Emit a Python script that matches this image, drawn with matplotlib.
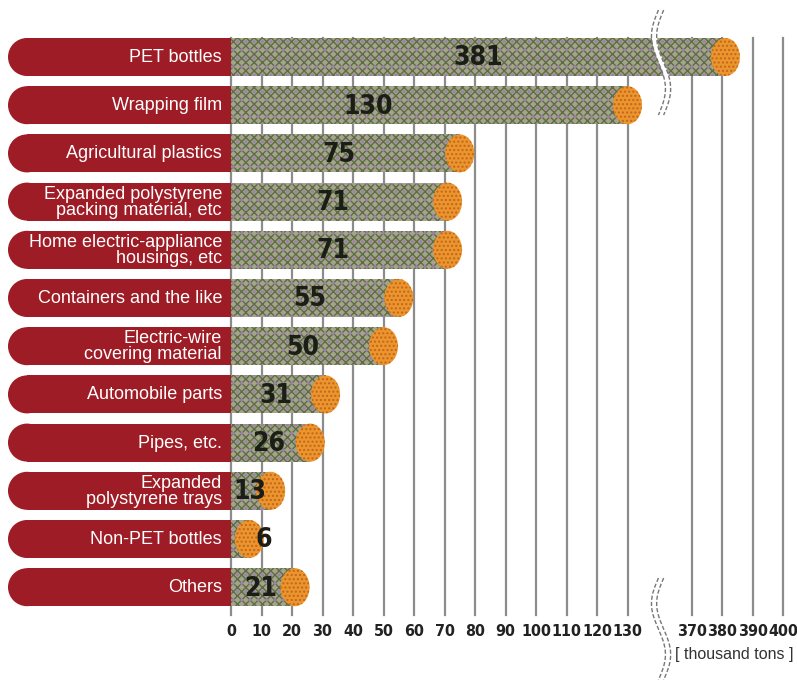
import numpy as np
import matplotlib.pyplot as plt
from matplotlib import font_manager
from matplotlib.patches import Rectangle, Ellipse

# Plastic waste by product, thousand tons
categories = [
    "PET bottles",
    "Wrapping film",
    "Agricultural plastics",
    "Expanded polystyrene\npacking material, etc",
    "Home electric-appliance\nhousings, etc",
    "Containers and the like",
    "Electric-wire\ncovering material",
    "Automobile parts",
    "Pipes, etc.",
    "Expanded\npolystyrene trays",
    "Non-PET bottles",
    "Others",
]
values = [381, 130, 75, 71, 71, 55, 50, 31, 26, 13, 6, 21]

low_ticks = list(range(0, 140, 10))
high_ticks = [370, 380, 390, 400]

# Broken axis: values above the break are shifted left so 370 sits just past 130
BREAK_LO = 130
BREAK_HI = 370
HIGH_START = 151.1
BREAK_X = 141.0


def xpos(v):
    v = np.asarray(v, dtype=float)
    return np.where(v <= BREAK_LO, v, v - BREAK_HI + HIGH_START)


def narrow_bold():
    # look for any installed condensed/narrow bold face for the numbers
    for f in font_manager.fontManager.ttflist:
        name = f.name.lower()
        fn = f.fname.lower()
        if ("condensed" in name or "narrow" in name or "condensed" in fn or "narrow" in fn) \
                and ("bold" in fn or str(f.weight) in ("bold", "700", "800", "900")):
            return font_manager.FontProperties(fname=f.fname)
    return font_manager.FontProperties(family="Liberation Sans", weight="bold")


num_font = narrow_bold()

# pixel scale: 3.05 px per unit on x, 48.2 px per row on y
PX_X = 3.05
PX_Y = 48.2

fig = plt.figure(figsize=(7.97, 6.8), dpi=100)
ax = fig.add_axes([0, 0, 1, 1])
ax.set_xlim(-231 / PX_X, (797 - 231) / PX_X)
ax.set_ylim((680 - 57) / PX_Y, -57 / PX_Y)
ax.axis("off")

rows = np.arange(len(categories))
bar_h = 38 / PX_Y

red = "#9e1c25"
bar_face = "#a3a48a"
bar_hatch = "#5e6d46"
dot_col = "#a07fae"
cap_face = "#ea962e"
cap_hatch = "#c8621a"
grid_col = "#8c8c8c"

plt.rcParams["hatch.linewidth"] = 1.0

# vertical grid lines
for t in low_ticks + high_ticks:
    ax.plot([xpos(t)] * 2, [-19 / PX_Y, (615 - 57) / PX_Y], color=grid_col, lw=1.6, zorder=1)

# red label pills: half-ellipse on the left, square on the right
r = 19 / PX_X
pill_left = -223 / PX_X
for y, name in zip(rows, categories):
    ax.add_patch(Ellipse((pill_left + r, y), 2 * r, bar_h, facecolor=red, edgecolor="none", zorder=2))
    ax.add_patch(Rectangle((pill_left + r, y - bar_h / 2), -pill_left - r + 1, bar_h,
                           facecolor=red, edgecolor="none", zorder=2))
    ax.text(-9 / PX_X, y + 0.01, name, ha="right", va="center", color="white",
            fontsize=13, family="Liberation Sans", linespacing=0.93, zorder=6)

# value bars with rounded end caps
ends = xpos(values)
ax.barh(rows, ends, height=bar_h, left=0, color=bar_face, edgecolor=bar_hatch,
        hatch="xxxx", linewidth=0, zorder=3)
ax.barh(rows, ends, height=bar_h, left=0, color="none", edgecolor=dot_col,
        hatch="..", linewidth=0, zorder=3)
for y, e in zip(rows, ends):
    ax.add_patch(Ellipse((e, y), 29 / PX_X, bar_h, facecolor=cap_face, edgecolor=cap_hatch,
                         hatch="....", linewidth=0, zorder=4))

# value labels
for y, v, e in zip(rows, values, ends):
    if e * PX_X < 30:
        lx = e + 15 / PX_X
    elif v <= BREAK_LO:
        lx = min(e * 0.47, 45)
    else:
        lx = e * 0.5
    ax.text(lx, y + 0.03, str(v), ha="center", va="center", fontproperties=num_font,
            fontsize=19, color="#1b1d17", zorder=6)

# axis labels
tick_y = (632 - 57) / PX_Y
for t in low_ticks + high_ticks:
    ax.text(xpos(t), tick_y, str(t), ha="center", va="center", fontproperties=num_font,
            fontsize=11.5, color="#222222", zorder=6)
ax.text(xpos(384), (655 - 57) / PX_Y, "[ thousand tons ]", ha="center", va="center",
        fontsize=11.5, family="Liberation Sans", color="#333333", zorder=6)


# break marks: white wavy band edged with dashed lines
def draw_break(y_top, y_bot):
    ys = np.linspace(y_top, y_bot, 200)
    xs = BREAK_X - (7 / PX_X) * np.sin(2 * np.pi * (ys - y_top) / (y_bot - y_top))
    half = 2.6 / PX_X
    ax.fill_betweenx(ys, xs - half, xs + half, color="white", zorder=5, lw=0)
    for off in (-half, half):
        ax.plot(xs + off, ys, color="#777777", lw=1.0, ls=(0, (3, 1.5)), zorder=5)


draw_break((10 - 57) / PX_Y, (115 - 57) / PX_Y)
draw_break((578 - 57) / PX_Y, (680 - 57) / PX_Y)

fig.savefig("out.png", dpi=100, facecolor="white")
